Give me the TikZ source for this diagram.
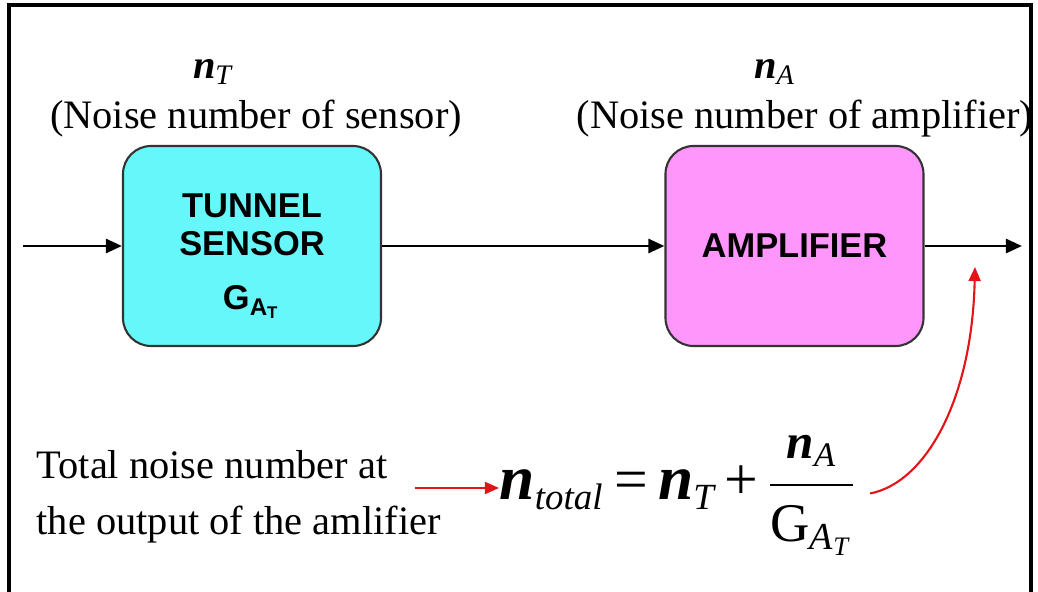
\documentclass[tikz,border=0pt]{standalone}
\usepackage{amsmath}
\usepackage{fontspec}
\setmainfont{Liberation Serif}
\setsansfont{Liberation Sans}
\usepackage{xcolor}
\usepackage{tikz}
\usetikzlibrary{arrows.meta, positioning, calc}
\DeclareMathSizes{18}{18}{10.5}{8}

\definecolor{sensorcyan}{RGB}{102,247,250}
\definecolor{ampviolet}{RGB}{255,150,252}
\definecolor{notered}{RGB}{226,20,24}

\newcommand{\bn}{\textbf{\textit{n}}}
\newcommand{\smalleq}{\mathrel{\text{\fontsize{17}{17}\selectfont =}}}
\newcommand{\smallplus}{\mathbin{\text{\fontsize{17}{17}\selectfont +}}}

\begin{document}
\begin{tikzpicture}[scale=1.0,
    block/.style={draw=black!80, line width=0.6pt, rounded corners=0.28cm,
      minimum width=2.58cm, minimum height=2.0cm, align=center,
      font=\sffamily\bfseries\fontsize{9.8}{10.8}\selectfont},
    label/.style={font=\fontsize{11.5}{16}\selectfont, inner sep=0pt},
    arr/.style={-{Triangle[length=4.6pt,width=4pt]}, line width=0.8pt},
    redarr/.style={-{Triangle[length=4pt,width=3.4pt]}, line width=0.6pt, notered}
  ]
  \useasboundingbox (0,0) rectangle (10.38,5.91);
  % Frame
  \draw[line width=0.9pt] (0.09,-0.2) -- (0.09,5.86) -- (10.31,5.86) -- (10.31,-0.2);
  % Blocks
  \node[block, fill=sensorcyan] (sensor) at (2.52,3.45)
    {\rule{0pt}{12.5pt}TUNNEL\\SENSOR\\[4.8pt]G\textsubscript{A\textsubscript{T}}};
  \node[block, fill=ampviolet] (amp) at (7.945,3.45) {AMPLIFIER};
  % Noise numbers
  \node[label] (nT) at (2.13,5.19) {$\bn_{\textit{T}}$};
  \node[label] (sensortxt) at (2.56,4.72) {(Noise number of sensor)};
  \node[label] (nA) at (7.75,5.19) {$\bn_{\textit{A}}$};
  \node[label] (amptxt) at (8.05,4.72) {(Noise number of amplifier)};
  % Signal path
  \coordinate (in) at (0.23,3.45);
  \coordinate (out) at (10.22,3.45);
  \draw[arr] (in) -- (sensor);
  \draw[arr] (sensor) -- (amp);
  \draw[arr] (amp) -- (out);
  % Total noise
  \node[label, align=left, anchor=west] (note) at (0.36,0.94)
    {Total noise number at\\the output of the amlifier};
  \node[inner sep=0pt, anchor=base west, font=\fontsize{18}{22}\selectfont] (formula) at (4.99,0.91)
    {$\thickmuskip=3mu \medmuskip=2.5mu
      \bn_{\textit{total}} \smalleq \bn_{\textit{T}} \smallplus
      \dfrac{\text{\fontsize{14}{14}\selectfont\bn\textsubscript{\textit{A}}}}
            {\text{\fontsize{15.5}{15.5}\selectfont G\textsubscript{\textit{A}\textsubscript{\textit{T}}}}}$};
  \coordinate (tail) at (4.15,1.03);
  \coordinate (outtip) at (9.75,3.24);
  \draw[redarr] (tail) -- (formula.west |- tail);
  \draw[redarr] ($(formula.east)+(0.12,0.02)$) .. controls (9.25,1.08) and (9.72,1.9) .. (outtip);
\end{tikzpicture}
\end{document}
